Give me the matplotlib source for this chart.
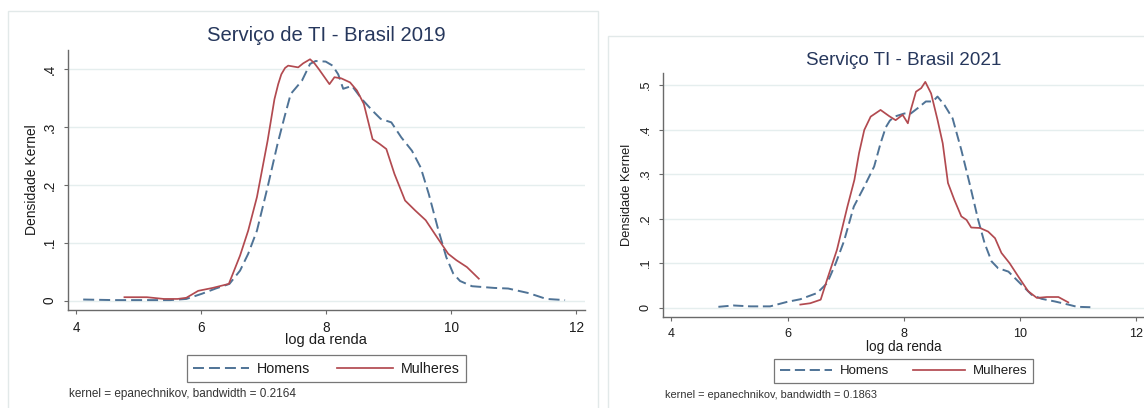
"""
Kernel density of log income, IT services, Brazil 2019 vs 2021.
Two Stata-style panels side by side, men (dashed) vs women (solid).
"""

import matplotlib.pyplot as plt
from matplotlib.patches import Rectangle

plt.rcParams["font.family"] = ["Liberation Sans", "DejaVu Sans"]
plt.rcParams["lines.scale_dashes"] = False

FIG_W, FIG_H = 1144, 408

# ---------------------------------------------------------------------------
# Data: kernel density estimates (log da renda -> densidade)
# ---------------------------------------------------------------------------
X_HOM_2019 = [4.11, 4.60, 5.10, 5.50, 5.76, 6.01, 6.23, 6.45, 6.62, 6.75, 6.89,
              7.06, 7.22, 7.33, 7.43, 7.61, 7.74, 7.83, 7.99, 8.10, 8.19, 8.27,
              8.41, 8.57, 8.74, 8.87, 9.04, 9.20, 9.37, 9.51, 9.64, 9.78, 9.92,
              10.03, 10.14, 10.33, 10.69, 10.91, 11.24, 11.52, 11.82]
Y_HOM_2019 = [0.002, 0.001, 0.001, 0.001, 0.003, 0.012, 0.021, 0.029, 0.052,
              0.081, 0.121, 0.196, 0.271, 0.317, 0.357, 0.380, 0.409, 0.414,
              0.413, 0.406, 0.391, 0.366, 0.371, 0.348, 0.328, 0.314, 0.308,
              0.282, 0.259, 0.230, 0.184, 0.127, 0.075, 0.047, 0.034, 0.025,
              0.022, 0.021, 0.013, 0.003, 0.001]

X_MUL_2019 = [4.77, 5.13, 5.40, 5.62, 5.76, 5.95, 6.18, 6.44, 6.62, 6.75, 6.89,
              7.06, 7.17, 7.23, 7.28, 7.34, 7.39, 7.55, 7.63, 7.74, 7.81, 7.88,
              8.05, 8.13, 8.24, 8.38, 8.49, 8.60, 8.74, 8.85, 8.96, 9.09, 9.26,
              9.42, 9.59, 9.75, 9.95, 10.08, 10.25, 10.44]
Y_MUL_2019 = [0.006, 0.006, 0.003, 0.003, 0.005, 0.017, 0.022, 0.029, 0.078,
              0.121, 0.179, 0.276, 0.348, 0.374, 0.391, 0.402, 0.406, 0.403,
              0.410, 0.417, 0.410, 0.400, 0.374, 0.386, 0.384, 0.377, 0.363,
              0.340, 0.279, 0.271, 0.262, 0.219, 0.173, 0.156, 0.139, 0.113,
              0.081, 0.070, 0.058, 0.038]

X_HOM_2021 = [4.81, 5.07, 5.36, 5.70, 5.99, 6.22, 6.51, 6.68, 6.83, 6.97, 7.14,
              7.32, 7.49, 7.60, 7.69, 7.76, 7.84, 8.01, 8.12, 8.24, 8.38, 8.50,
              8.58, 8.70, 8.84, 8.99, 9.13, 9.28, 9.39, 9.51, 9.62, 9.80, 10.00,
              10.20, 10.37, 10.60, 10.83, 10.98, 11.24]
Y_HOM_2021 = [0.002, 0.005, 0.003, 0.003, 0.013, 0.019, 0.033, 0.055, 0.100,
              0.149, 0.227, 0.272, 0.317, 0.369, 0.405, 0.420, 0.429, 0.436,
              0.436, 0.448, 0.463, 0.463, 0.474, 0.455, 0.425, 0.354, 0.280,
              0.197, 0.145, 0.104, 0.089, 0.081, 0.055, 0.029, 0.020, 0.014,
              0.007, 0.002, 0.001]

X_MUL_2021 = [6.22, 6.39, 6.57, 6.68, 6.85, 7.03, 7.15, 7.23, 7.32, 7.43, 7.60,
              7.75, 7.86, 7.98, 8.07, 8.12, 8.21, 8.30, 8.37, 8.47, 8.58, 8.67,
              8.76, 8.87, 8.99, 9.08, 9.16, 9.31, 9.45, 9.57, 9.68, 9.82, 9.97,
              10.14, 10.29, 10.46, 10.66, 10.83]
Y_MUL_2021 = [0.007, 0.010, 0.018, 0.063, 0.130, 0.227, 0.287, 0.347, 0.399,
              0.429, 0.444, 0.430, 0.421, 0.433, 0.414, 0.444, 0.485, 0.493,
              0.507, 0.481, 0.422, 0.369, 0.280, 0.242, 0.205, 0.197, 0.180,
              0.179, 0.171, 0.156, 0.123, 0.100, 0.070, 0.037, 0.022, 0.024,
              0.024, 0.012]

X_TICKS = [4, 6, 8, 10, 12]
Y_TICKS_2019 = [0, 0.1, 0.2, 0.3, 0.4]
Y_LABELS_2019 = ["0", ".1", ".2", ".3", ".4"]
Y_TICKS_2021 = [0, 0.1, 0.2, 0.3, 0.4, 0.5]
Y_LABELS_2021 = ["0", ".1", ".2", ".3", ".4", ".5"]

SERIES_NAMES = ["Homens", "Mulheres"]

# ---------------------------------------------------------------------------
# Style
# ---------------------------------------------------------------------------
COLOR_HOM = "#4f7396"
COLOR_MUL = "#b24a50"
TITLE_COLOR = "#26375c"
AXIS_COLOR = "#6a6a6a"
GRID_COLOR = "#e5eeee"
FRAME_COLOR = "#e2e9e9"


def fig_rect(left, top, right, bottom):
    """Pixel box (origin top-left) -> figure fraction [x, y, w, h]."""
    return [left / FIG_W, 1 - bottom / FIG_H,
            (right - left) / FIG_W, (bottom - top) / FIG_H]


def draw_panel(fig, box, frame, xlim, ylim, xh, yh, xm, ym, yticks, ylabels,
               title, note, note_xy, legend_y, s=1.0):
    # light frame around the whole graph region
    fl, ft, fr, fb = frame
    fig.patches.append(Rectangle((fl / FIG_W, 1 - fb / FIG_H),
                                 (fr - fl) / FIG_W, (fb - ft) / FIG_H,
                                 transform=fig.transFigure, fill=False,
                                 edgecolor=FRAME_COLOR, lw=1.0))

    ax = fig.add_axes(fig_rect(*box))
    ax.plot(xh, yh, color=COLOR_HOM, lw=1.4, dashes=(7.9 * s, 3.6 * s),
            label=SERIES_NAMES[0])
    ax.plot(xm, ym, color=COLOR_MUL, lw=1.25, label=SERIES_NAMES[1])

    ax.set_xlim(*xlim)
    ax.set_ylim(*ylim)
    ax.set_xticks(X_TICKS)
    ax.set_yticks(yticks)
    ax.set_yticklabels(ylabels)

    for side in ("top", "right"):
        ax.spines[side].set_visible(False)
    for side in ("left", "bottom"):
        ax.spines[side].set_color(AXIS_COLOR)
        ax.spines[side].set_linewidth(1.0)

    ax.yaxis.grid(True, color=GRID_COLOR, lw=1.0)
    ax.set_axisbelow(True)

    ax.tick_params(axis="both", direction="out", length=3, width=0.8,
                   color=AXIS_COLOR, labelsize=9.8 * s, labelcolor="#1c1c1c")
    ax.tick_params(axis="x", pad=5)
    ax.tick_params(axis="y", pad=5, labelrotation=90)
    plt.setp(ax.get_yticklabels(), va="center")

    ax.set_xlabel("log da renda", fontsize=10.5 * s, color="#1c1c1c")
    ax.xaxis.set_label_coords(0.5, -30 / (box[3] - box[1]))
    ax.xaxis.label.set_va("center")
    ax.set_ylabel("Densidade Kernel", fontsize=10.0 * s, color="#1c1c1c")
    ax.yaxis.set_label_coords(-35.5 / (box[2] - box[0]), 0.5)
    ax.yaxis.label.set_va("center")

    ax.text(0.5, 1 + (box[1] - title[1]) / (box[3] - box[1]), title[0],
            transform=ax.transAxes, ha="center", va="center",
            fontsize=14.6 * s, color=TITLE_COLOR)

    leg = ax.legend(loc="center", ncol=2, frameon=True, fancybox=False,
                    bbox_to_anchor=(0.5, (box[3] - legend_y) / (box[3] - box[1])),
                    fontsize=10.3 * s, handlelength=3.9, handletextpad=0.55,
                    columnspacing=1.85, borderpad=0.45)
    leg.get_frame().set_edgecolor("#555555")
    leg.get_frame().set_linewidth(0.9)
    for t in leg.get_texts():
        t.set_color("#1c1c1c")

    fig.text(note_xy[0] / FIG_W, 1 - note_xy[1] / FIG_H, note,
             ha="left", va="center", fontsize=8.5 * s, color="#333333")
    return ax


def main():
    fig = plt.figure(figsize=(FIG_W / 100, FIG_H / 100), dpi=100)
    fig.patch.set_facecolor("white")

    draw_panel(fig, box=(67.7, 50, 585, 310), frame=(8.3, 10.7, 598, 430),
               xlim=(3.862, 12.139), ylim=(-0.0161, 0.433),
               xh=X_HOM_2019, yh=Y_HOM_2019, xm=X_MUL_2019, ym=Y_MUL_2019,
               yticks=Y_TICKS_2019, ylabels=Y_LABELS_2019,
               title=("Serviço de TI - Brasil 2019", 35.7),
               note="kernel = epanechnikov, bandwidth = 0.2164",
               note_xy=(69.3, 394.3), legend_y=368.7, s=1.0)

    draw_panel(fig, box=(662.7, 72.7, 1145, 316.7), frame=(608.3, 36, 1160, 430),
               xlim=(3.852, 12.15), ylim=(-0.0202, 0.5276),
               xh=X_HOM_2021, yh=Y_HOM_2021, xm=X_MUL_2021, ym=Y_MUL_2021,
               yticks=Y_TICKS_2021, ylabels=Y_LABELS_2021,
               title=("Serviço TI - Brasil 2021", 60.7),
               note="kernel = epanechnikov, bandwidth = 0.1863",
               note_xy=(665, 395), legend_y=371.2, s=0.93)

    fig.savefig("out.png", dpi=100)
    plt.close(fig)


if __name__ == "__main__":
    main()
